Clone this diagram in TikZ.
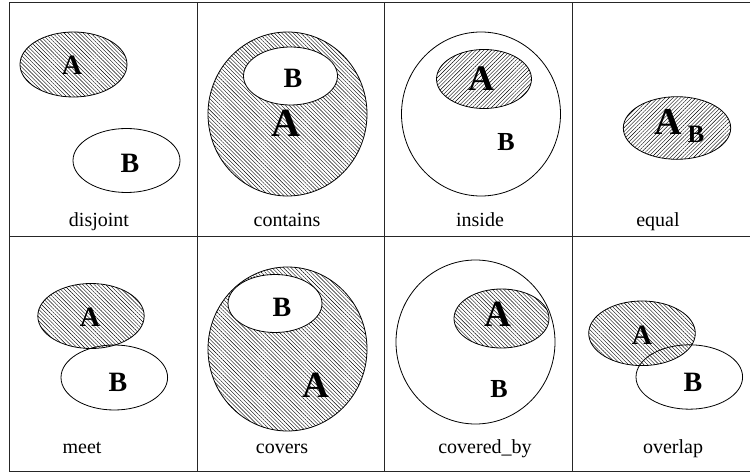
\documentclass[tikz,border=0pt]{standalone}
\usepackage{fontspec}
\setmainfont{Liberation Serif}
\usetikzlibrary{patterns.meta}
\tikzset{
  grid/.style={draw=black!85, line width=0.9pt},
  hatchA/.style={draw=black, line width=0.8pt, pattern={Lines[angle=-45,distance=2.7pt,line width=0.4pt]}},
  hatchB/.style={draw=black, line width=0.8pt, pattern={Lines[angle=45,distance=2.7pt,line width=0.4pt]}},
  plain/.style={draw=black, line width=0.8pt},
  whitefill/.style={draw=black, line width=0.8pt, fill=white},
  lbl/.style={font=\fontsize{20}{22}\selectfont, anchor=base, inner sep=0pt},
  let/.style={font=\fontsize{#1}{#1}\bfseries\selectfont, inner sep=0pt},
}
\begin{document}
\begin{tikzpicture}[x=1pt,y=-1pt]
\useasboundingbox (0,0) rectangle (750,473);
\fill[white] (0,0) rectangle (750,473);
\clip (0,0) rectangle (750,473);
% grid
\draw[grid] (9,2.5) rectangle (760,471);
\draw[grid] (9,236) -- (760,236);
\draw[grid] (197,2.5) -- (197,471);
\draw[grid] (384,2.5) -- (384,471);
\draw[grid] (572,2.5) -- (572,471);

% disjoint
\draw[hatchA] (73.5,64.5) ellipse [x radius=53.5pt, y radius=32.5pt];
\node[let=28] (dA) at (72,65) {A};
\draw[whitefill] (126.5,160.5) ellipse [x radius=53.5pt, y radius=32pt];
\node[let=28] (dB) at (130,163) {B};
\node[lbl] (l1) at (99,227) {disjoint};

% contains
\draw[hatchA] (287.5,114) ellipse [x radius=79.5pt, y radius=82pt];
\draw[whitefill] (290.5,76) ellipse [x radius=47pt, y radius=29pt];
\node[let=28] (cB) at (293,78) {B};
\node[let=40] (cA) at (286,123) {A};
\node[lbl] (l2) at (287,227) {contains};

% inside
\draw[whitefill] (481,114) ellipse [x radius=79.5pt, y radius=82pt];
\draw[hatchB] (484,79) ellipse [x radius=47.5pt, y radius=29.5pt];
\node[let=36] (iA) at (481,79) {A};
\node[let=26] (iB) at (506,142) {B};
\node[lbl] (l3) at (480,227) {inside};

% equal
\draw[hatchB] (677,128) ellipse [x radius=53.7pt, y radius=31.3pt];
\node[let=38] (eA) at (668,122) {A};
\node[let=25] (eB) at (696,134) {B};
\node[lbl] (l4) at (658,227) {equal};

% meet
\draw[hatchA] (91,316) ellipse [x radius=53.2pt, y radius=32.5pt];
\node[let=28] (mA) at (90,317) {A};
\draw[plain] (114.3,377.5) ellipse [x radius=53.3pt, y radius=32.5pt];
\node[let=28] (mB) at (118,382) {B};
\node[lbl] (l5) at (82,453) {meet};

% covers
\draw[hatchA] (287.5,349) ellipse [x radius=79.5pt, y radius=82pt];
\draw[whitefill] (275,303.5) ellipse [x radius=47pt, y radius=29pt];
\node[let=28] (vB) at (282,307) {B};
\node[let=37] (vA) at (316,385) {A};
\node[lbl] (l6) at (282,453) {covers};

% covered_by
\draw[whitefill] (475.5,342) ellipse [x radius=79.5pt, y radius=82pt];
\draw[hatchA] (501.5,318.5) ellipse [x radius=47.5pt, y radius=29.5pt];
\node[let=37] (bA) at (498,314) {A};
\node[let=26] (bB) at (499,389) {B};
\node[lbl] (l7) at (485,453) {covered\_by};

% overlap
\draw[hatchA] (642,333.3) ellipse [x radius=53.3pt, y radius=32.3pt];
\draw[plain] (689.3,377) ellipse [x radius=53.3pt, y radius=32.2pt];
\node[let=28] (oA) at (642,335) {A};
\node[let=28] (oB) at (693,382) {B};
\node[lbl] (l8) at (673,453) {overlap};
\end{tikzpicture}
\end{document}
